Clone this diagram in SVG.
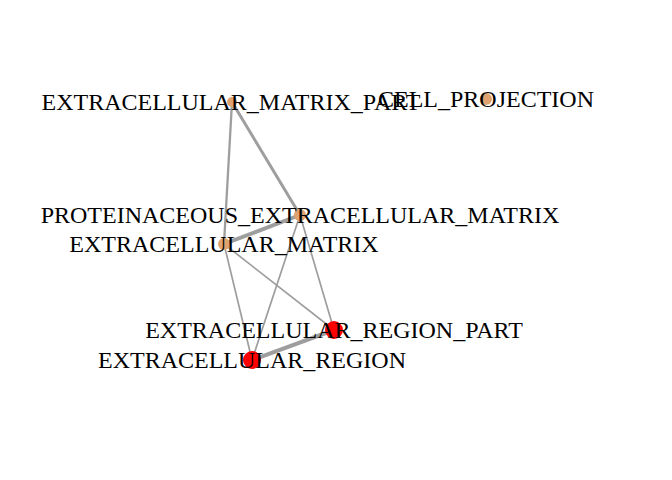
<svg xmlns="http://www.w3.org/2000/svg" width="672" height="480" viewBox="0 0 672 480">
<style>
.e{stroke:#9e9e9e;fill:none;stroke-linecap:round}
.o{fill:#e0a26e}
.r{fill:#ff0000}
text{font-family:"Liberation Serif","Times New Roman",serif;font-size:24px;fill:#000;text-anchor:middle}
</style>
<rect width="672" height="480" fill="#fff"/>
<g id="connectors">
<line class="e" x1="232" y1="102" x2="300" y2="215" stroke-width="3"/>
<line class="e" x1="232" y1="102" x2="224" y2="244" stroke-width="2.3"/>
<line class="e" x1="300" y1="215" x2="224" y2="244" stroke-width="4"/>
<line class="e" x1="300" y1="215" x2="252" y2="360" stroke-width="1.7"/>
<line class="e" x1="300" y1="215" x2="334" y2="330" stroke-width="1.7"/>
<line class="e" x1="224" y1="244" x2="252" y2="360" stroke-width="1.7"/>
<line class="e" x1="224" y1="244" x2="334" y2="330" stroke-width="1.7"/>
<line class="e" x1="252" y1="360" x2="334" y2="330" stroke-width="4"/>
</g>
<g id="n-emp"><circle class="o" cx="232" cy="102" r="5"/><text x="231" y="110">EXTRACELLULAR_MATRIX_PART</text></g>
<g id="n-cp"><circle class="o" cx="486" cy="99" r="6"/><text x="486" y="107">CELL_PROJECTION</text></g>
<g id="n-pem"><circle class="o" cx="300" cy="215" r="6"/><text x="300" y="223">PROTEINACEOUS_EXTRACELLULAR_MATRIX</text></g>
<g id="n-em"><circle class="o" cx="224" cy="244" r="6"/><text x="224" y="252">EXTRACELLULAR_MATRIX</text></g>
<g id="n-erp"><circle class="r" cx="334" cy="330" r="9"/><text x="334" y="338">EXTRACELLULAR_REGION_PART</text></g>
<g id="n-er"><circle class="r" cx="252" cy="360" r="9"/><text x="252" y="368">EXTRACELLULAR_REGION</text></g>
</svg>
